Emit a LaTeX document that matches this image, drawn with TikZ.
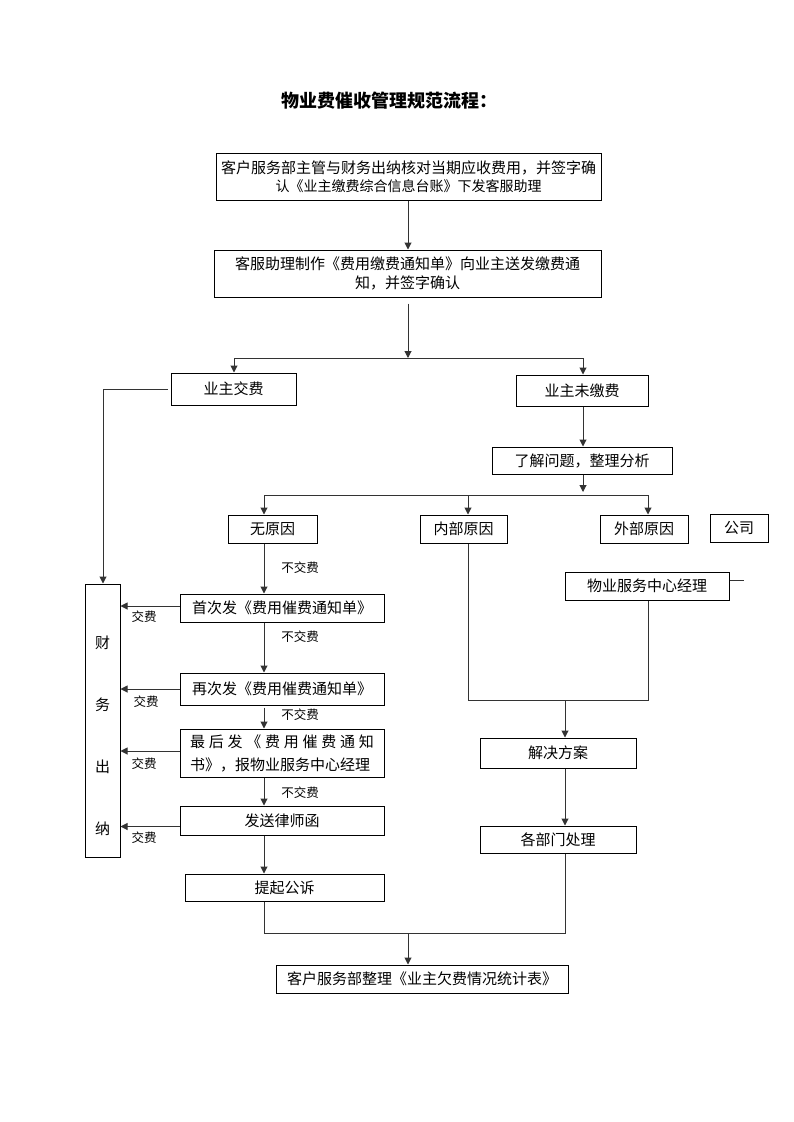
\documentclass[tikz,border=0pt]{standalone}
\usepackage{fontspec}
\setmainfont{Noto Sans CJK SC}
\usetikzlibrary{arrows.meta}
\begin{document}
\begin{tikzpicture}[x=1pt,y=-1pt,
  box/.style={draw,line width=1pt,inner sep=0pt,align=center,font=\fontsize{15}{19}\selectfont},
  conn/.style={line width=1pt,draw=black!80},
  arr/.style={conn,-{Triangle[length=7pt,width=7pt]}},
  lab/.style={font=\fontsize{12.5}{14}\selectfont,inner sep=0pt}]
\useasboundingbox (0,0) rectangle (793,1122);
% title
\node[font=\bfseries\fontsize{18}{20}\selectfont] (title) at (389,101) {物业费催收管理规范流程：};
% top boxes
\node[box,minimum width=385pt,minimum height=47pt] (b1) at (408.5,176.5)
  {客户服务部主管与财务出纳核对当期应收费用，并签字确\\[-1pt]{\fontsize{14}{16}\selectfont 认《业主缴费综合信息台账》下发客服助理}};
\node[box,minimum width=387pt,minimum height=47pt] (b2) at (407.5,273.5)
  {客服助理制作《费用缴费通知单》向业主送发缴费通\\知，并签字确认};
\node[box,minimum width=125pt,minimum height=32pt] (jf) at (233.5,389) {业主交费};
\node[box,minimum width=132pt,minimum height=31pt] (wj) at (582,390.5) {业主未缴费};
\node[box,minimum width=180pt,minimum height=27pt] (lj) at (582,460.5) {了解问题，整理分析};
\node[box,minimum width=89pt,minimum height=28pt] (wy) at (272.5,529) {无原因};
\node[box,minimum width=87pt,minimum height=28pt] (nb) at (463.5,529) {内部原因};
\node[box,minimum width=88pt,minimum height=28pt] (wb) at (644,529) {外部原因};
\node[box,minimum width=58pt,minimum height=28pt] (gs) at (739,528) {公司};
\node[box,minimum width=164pt,minimum height=28pt] (jl) at (647,586) {物业服务中心经理};
\node[box,minimum width=156pt,minimum height=30pt] (jj) at (558,753) {解决方案};
\node[box,minimum width=156pt,minimum height=27pt] (gb) at (558,839.5) {各部门处理};
\node[box,minimum width=292pt,minimum height=28pt] (kf) at (422,979) {客户服务部整理《业主欠费情况统计表》};
% left column
\node[box,minimum width=204pt,minimum height=28pt] (s1) at (282,608) {首次发《费用催费通知单》};
\node[box,minimum width=204pt,minimum height=32pt] (s2) at (282,689) {再次发《费用催费通知单》};
\node[box,minimum width=204pt,minimum height=48pt,font=\fontsize{15}{23}\selectfont] (s3) at (282,753)
  {\makebox[184pt][s]{最 后 发 《 费 用 催 费 通 知}\\\makebox[184pt][s]{书》，报物业服务中心经理}};
\node[box,minimum width=204pt,minimum height=29pt] (s4) at (282,820.5) {发送律师函};
\node[box,minimum width=199pt,minimum height=27pt] (s5) at (284.5,887.5) {提起公诉};
\node[box,minimum width=35pt,minimum height=273pt] (cw) at (102.5,720.5) {};
\node[font=\fontsize{15}{62}\selectfont,align=center,inner sep=0pt] (cwt) at (102.5,736) {财\\务\\出\\纳};
% coordinates
\coordinate (sp) at (408,358);
\coordinate (spL) at (234,358);
\coordinate (spR) at (583,358);
\coordinate (lx) at (103,388);
\coordinate (sq) at (583,492);
\coordinate (sqL) at (264,495);
\coordinate (sqM) at (468,495);
\coordinate (sqR) at (648,495);
\coordinate (cx) at (264,0);
\coordinate (r1) at (468,700);
\coordinate (r2) at (648,700);
\coordinate (r3) at (565,700);
\coordinate (m1) at (565,933);
\coordinate (m2) at (264,933);
\coordinate (m3) at (408,933);
% connectors top
\draw[arr] (b1.south -| sp) -- (b2.north -| sp);
\draw[arr] ([yshift=-6pt]b2.south -| sp) -- (sp);
\draw[conn] (spL) -- (spR);
\draw[arr] (spL) -- (jf.north -| spL);
\draw[arr] (spR) -- (wj.north -| spR);
\draw[arr] ([xshift=-3pt]jf.west) -- (jf.west -| lx) -- (cw.north -| lx);
\draw[arr] (wj.south -| spR) -- (lj.north -| spR);
\draw[arr] (lj.south -| sq) -- (sq);
\draw[conn] (sqL) -- (sqR);
\draw[arr] (sqL) -- (wy.north -| sqL);
\draw[arr] (sqM) -- (nb.north -| sqM);
\draw[arr] (sqR) -- (wb.north -| sqR);
\draw[conn] ([yshift=6pt]jl.east) -- ++(14,0);
% internal reasons
\draw[conn] (nb.south -| r1) -- (r1) -- (r2) -- (jl.south -| r2);
\draw[arr] (r3) -- (jj.north -| r3);
\draw[arr] (jj.south -| r3) -- (gb.north -| r3);
% left flow
\draw[arr] (wy.south -| cx) -- (s1.north -| cx);
\draw[arr] (s1.south -| cx) -- (s2.north -| cx);
\draw[arr] ([yshift=-2pt]s2.south -| cx) -- (s3.north -| cx);
\draw[arr] (s3.south -| cx) -- (s4.north -| cx);
\draw[arr] (s4.south -| cx) -- (s5.north -| cx);
\node[lab] (n1) at (300,568) {不交费};
\node[lab] (n2) at (300,637) {不交费};
\node[lab] (n3) at (300,715) {不交费};
\node[lab] (n4) at (300,793) {不交费};
% pay arrows
\draw[arr] ([yshift=2pt]s1.west) -- ([yshift=2pt]s1.west -| cw.east);
\draw[arr] (s2.west) -- (s2.west -| cw.east);
\draw[arr] ([yshift=2pt]s3.west) -- ([yshift=2pt]s3.west -| cw.east);
\draw[arr] ([yshift=-6pt]s4.west) -- ([yshift=-6pt]s4.west -| cw.east);
\node[lab] (p1) at (144,617) {交费};
\node[lab] (p2) at (146,702) {交费};
\node[lab] (p3) at (144,764) {交费};
\node[lab] (p4) at (144,838) {交费};
% bottom merge
\draw[conn] (s5.south -| m2) -- (m2) -- (m1) -- (gb.south -| m1);
\draw[arr] (m3) -- (kf.north -| m3);
\end{tikzpicture}
\end{document}
